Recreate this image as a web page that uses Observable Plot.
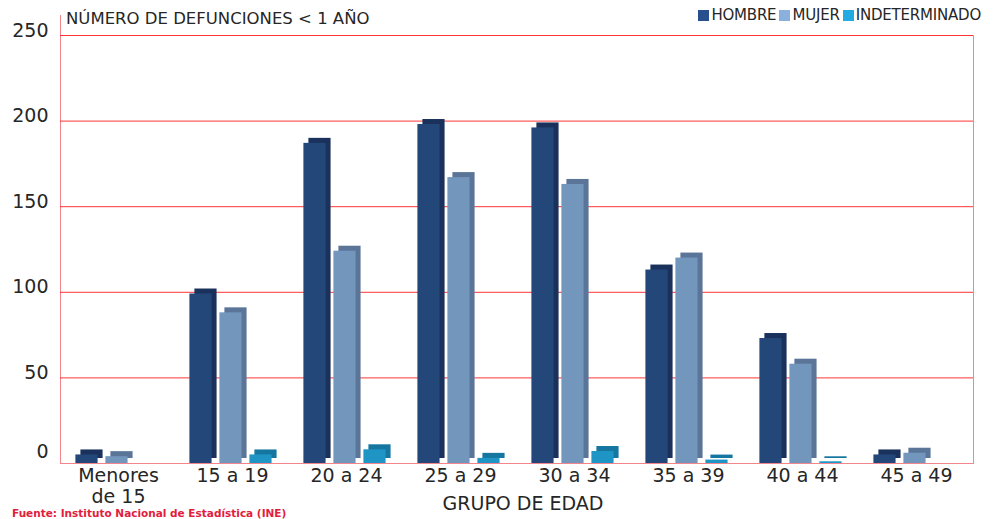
<!DOCTYPE html>
<html><head><meta charset="utf-8">
<script src="https://cdn.jsdelivr.net/npm/d3@7"></script>
<script src="https://cdn.jsdelivr.net/npm/@observablehq/plot@0.6"></script>
<style>
body{margin:0;background:#fff;}
#wrap{position:relative;width:993px;height:519px;overflow:hidden;font-family:"DejaVu Sans",sans-serif;color:#262626;}
#wrap svg{position:absolute;left:0;top:0;}
.abs{position:absolute;white-space:nowrap;}
#title{left:66px;top:9px;font-size:16.5px;}
#legend{right:12px;top:6px;font-size:15px;display:flex;align-items:center;letter-spacing:-0.2px;}
#legend span.sw{display:inline-block;width:11px;height:11px;margin:0 2px 0 3px;}
#xtitle{left:0;width:1046px;text-align:center;top:492px;font-size:19px;}
#source{left:12px;top:507px;font-size:10.5px;line-height:12px;font-weight:bold;color:#e2203c;}
#yline{left:60px;top:15px;width:1px;height:20px;background:#f3868d;}
</style></head><body><div id="wrap"></div>
<script>
const groups = ["Menores de 15","15 a 19","20 a 24","25 a 29","30 a 34","35 a 39","40 a 44","45 a 49"];
const series = ["HOMBRE","MUJER","INDETERMINADO"];
const hombre = [5, 99, 187, 198, 196, 113, 73, 5];
const mujer  = [4, 88, 124, 167, 163, 120, 58, 6];
const indet  = [0, 5, 8, 3, 7, 2, 1, 0];
const yTicks = [0, 50, 100, 150, 200, 250];
const titleText = "NÚMERO DE DEFUNCIONES < 1 AÑO";
const xTitleText = "GRUPO DE EDAD";
const sourceText = "Fuente: Instituto Nacional de Estadística (INE)";

const frontColors = ["#24477a", "#7396bd", "#1f95c6"];
const sideColors  = ["#1a325b", "#5a7598", "#15779f"];
const legendColors = ["#27508c", "#8cb0dd", "#22abe3"];

const values = [hombre, mujer, indet];
const rows = series.flatMap((s, k) => groups.map((g, i) => ({group: g, series: s, value: values[k][i]})));

const W = 993, H = 519, mL = 60, mR = 20, mT = 35, mB = 56;
const band = (W - mL - mR) / groups.length;
const barW = 22.3, slot = 30, start = 14.4, depth = 5;

const barMarks = series.flatMap((s, k) => {
  const d = rows.filter(r => r.series === s);
  const il = start + k * slot, ir = band - il - barW;
  return [
    Plot.barY(d, {x: "group", y: "value", fill: sideColors[k], insetLeft: il, insetRight: ir, dx: depth, dy: -depth}),
    Plot.barY(d, {x: "group", y: "value", fill: frontColors[k], insetLeft: il, insetRight: ir})
  ];
});

const chart = Plot.plot({
  width: W, height: H,
  marginLeft: mL, marginRight: mR, marginTop: mT, marginBottom: mB,
  style: {fontFamily: '"DejaVu Sans", sans-serif', fontSize: "19px", color: "#262626", background: "transparent", overflow: "visible"},
  x: {type: "band", domain: groups, padding: 0},
  y: {domain: [0, 250]},
  marks: [
    Plot.frame({stroke: "#f3868d"}),
    Plot.ruleY(yTicks.filter(t => t > 0), {stroke: "#ff3535", strokeWidth: 1}),
    ...barMarks,
    Plot.axisY(yTicks.filter(t => t > 0), {tickSize: 0, tickPadding: 12, dy: -5, label: null, fill: "#262626"}),
    Plot.axisY([0], {tickSize: 0, tickPadding: 12, dy: -12, label: null, fill: "#262626"}),
    Plot.axisX({tickSize: 0, tickPadding: 4, label: null, fill: "#262626", lineHeight: 1.1,
      tickFormat: d => d === "Menores de 15" ? "Menores\nde 15" : d})
  ]
});

const wrap = document.getElementById("wrap");
wrap.appendChild(chart);

function addDiv(id, text) {
  const el = document.createElement("div");
  el.id = id; el.className = "abs"; el.textContent = text;
  wrap.appendChild(el);
  return el;
}
addDiv("yline", "");
addDiv("title", titleText);
addDiv("xtitle", xTitleText);
addDiv("source", sourceText);
const legend = addDiv("legend", "");
series.forEach((s, k) => {
  const sw = document.createElement("span");
  sw.className = "sw"; sw.style.background = legendColors[k];
  const t = document.createElement("span");
  t.textContent = s;
  legend.appendChild(sw); legend.appendChild(t);
});
</script>
</body></html>
